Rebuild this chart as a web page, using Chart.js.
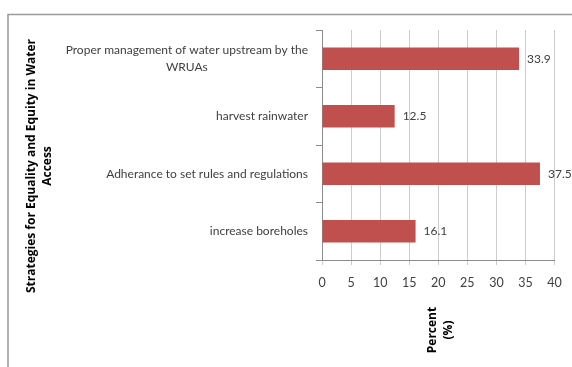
<!DOCTYPE html>
<html>
<head>
<meta charset="utf-8">
<script src="https://cdn.jsdelivr.net/npm/chart.js@4"></script>
<style>
  html, body { margin: 0; padding: 0; background: #fff; }
  #wrap { width: 572px; height: 367px; position: relative; }
</style>
</head>
<body>
<div id="wrap"><canvas id="c"></canvas></div>
<script>
// Strategies (each entry is a list of label lines) and their share in percent
const categories = [
  ["Proper management of water upstream by the", "WRUAs"],
  ["harvest rainwater"],
  ["Adherance to set rules and regulations"],
  ["increase boreholes"]
];
const percentValues = [33.9, 12.5, 37.5, 16.1];
const xTickValues = [0, 5, 10, 15, 20, 25, 30, 35, 40];
const yAxisTitle = ["Strategies for Equality and Equity in Water", "Access"];
const xAxisTitle = ["Percent", "(%)"];

const LABEL_FAMILY = "Lato, 'Noto Sans', sans-serif";
const LABEL_FONT = "12px " + LABEL_FAMILY;
const TITLE_FONT = "bold 12px 'Open Sans', 'Noto Sans', sans-serif";
const TEXT_COLOR = "#404040";

// Outer frame around the chart
const framePlugin = {
  id: 'frame',
  beforeDraw(chart) {
    const ctx = chart.ctx;
    ctx.save();
    ctx.strokeStyle = '#9a9a9a';
    ctx.lineWidth = 1.5;
    ctx.beginPath();
    ctx.moveTo(8, chart.height);
    ctx.lineTo(8, 14.5);
    ctx.lineTo(chart.width, 14.5);
    ctx.stroke();
    ctx.restore();
  }
};

// Category labels: right-aligned block, lines centred within the block
const categoryLabelPlugin = {
  id: 'categoryLabels',
  afterDraw(chart) {
    const ctx = chart.ctx;
    const yScale = chart.scales.y;
    const rightEdge = yScale.right - 14;
    const lineHeight = 16.5;
    ctx.save();
    ctx.font = LABEL_FONT;
    ctx.fillStyle = TEXT_COLOR;
    ctx.textAlign = 'center';
    ctx.textBaseline = 'middle';
    categories.forEach((lines, i) => {
      const yc = yScale.getPixelForTick(i);
      const blockW = Math.max(...lines.map(l => ctx.measureText(l).width));
      const xc = rightEdge - blockW / 2;
      const y0 = yc - (lines.length - 1) * lineHeight / 2;
      lines.forEach((l, k) => ctx.fillText(l, xc, y0 + k * lineHeight));
    });
    ctx.restore();
  }
};

// Value labels at the end of each bar
const valueLabelPlugin = {
  id: 'valueLabels',
  afterDatasetsDraw(chart) {
    const ctx = chart.ctx;
    const meta = chart.getDatasetMeta(0);
    ctx.save();
    ctx.font = LABEL_FONT;
    ctx.fillStyle = TEXT_COLOR;
    ctx.textAlign = 'left';
    ctx.textBaseline = 'middle';
    meta.data.forEach((bar, i) => {
      ctx.fillText(percentValues[i].toFixed(1), bar.x + 8, bar.y);
    });
    ctx.restore();
  }
};

// Rotated axis titles
const axisTitlePlugin = {
  id: 'axisTitles',
  afterDraw(chart) {
    const ctx = chart.ctx;
    const area = chart.chartArea;
    ctx.save();
    ctx.font = TITLE_FONT;
    ctx.fillStyle = '#000';
    ctx.textAlign = 'center';
    ctx.textBaseline = 'middle';
    // vertical-axis title
    const yMid = 166;
    yAxisTitle.forEach((t, k) => {
      ctx.save();
      ctx.translate(32 + k * 16, yMid);
      ctx.rotate(-Math.PI / 2);
      ctx.fillText(t, 0, 0);
      ctx.restore();
    });
    // horizontal-axis title, also set vertically below the ticks
    const xMid = (area.left + area.right) / 2;
    xAxisTitle.forEach((t, k) => {
      ctx.save();
      ctx.translate(xMid - 6 + k * 16, 330);
      ctx.rotate(-Math.PI / 2);
      ctx.fillText(t, 0, 0);
      ctx.restore();
    });
    ctx.restore();
  }
};

new Chart(document.getElementById('c'), {
  type: 'bar',
  data: {
    labels: categories.map(l => l.join(' ')),
    datasets: [{
      data: percentValues,
      backgroundColor: '#C0504D',
      borderWidth: 0,
      categoryPercentage: 1,
      barPercentage: 0.395
    }]
  },
  options: {
    indexAxis: 'y',
    responsive: true,
    maintainAspectRatio: false,
    animation: false,
    devicePixelRatio: 1,
    layout: { padding: { left: 0, top: 30, right: 17.5, bottom: 67 } },
    plugins: { legend: { display: false }, tooltip: { enabled: false } },
    scales: {
      x: {
        type: 'linear',
        min: 0,
        max: 40,
        afterBuildTicks(scale) { scale.ticks = xTickValues.map(v => ({ value: v })); },
        afterFit(scale) { scale.height = 40; },
        grid: { color: '#cccccc', lineWidth: 1, tickLength: 5, drawTicks: true },
        border: { color: '#8c8c8c', width: 1 },
        ticks: {
          padding: 10,
          color: TEXT_COLOR,
          font: { family: LABEL_FAMILY, size: 12.5 }
        }
      },
      y: {
        type: 'category',
        offset: true,
        afterFit(scale) { scale.width = 322; },
        grid: { offset: true, drawOnChartArea: false, drawTicks: true, tickLength: 6, color: '#8c8c8c' },
        border: { color: '#8c8c8c', width: 1 },
        ticks: { display: false }
      }
    }
  },
  plugins: [framePlugin, valueLabelPlugin, categoryLabelPlugin, axisTitlePlugin]
});
</script>
</body>
</html>
